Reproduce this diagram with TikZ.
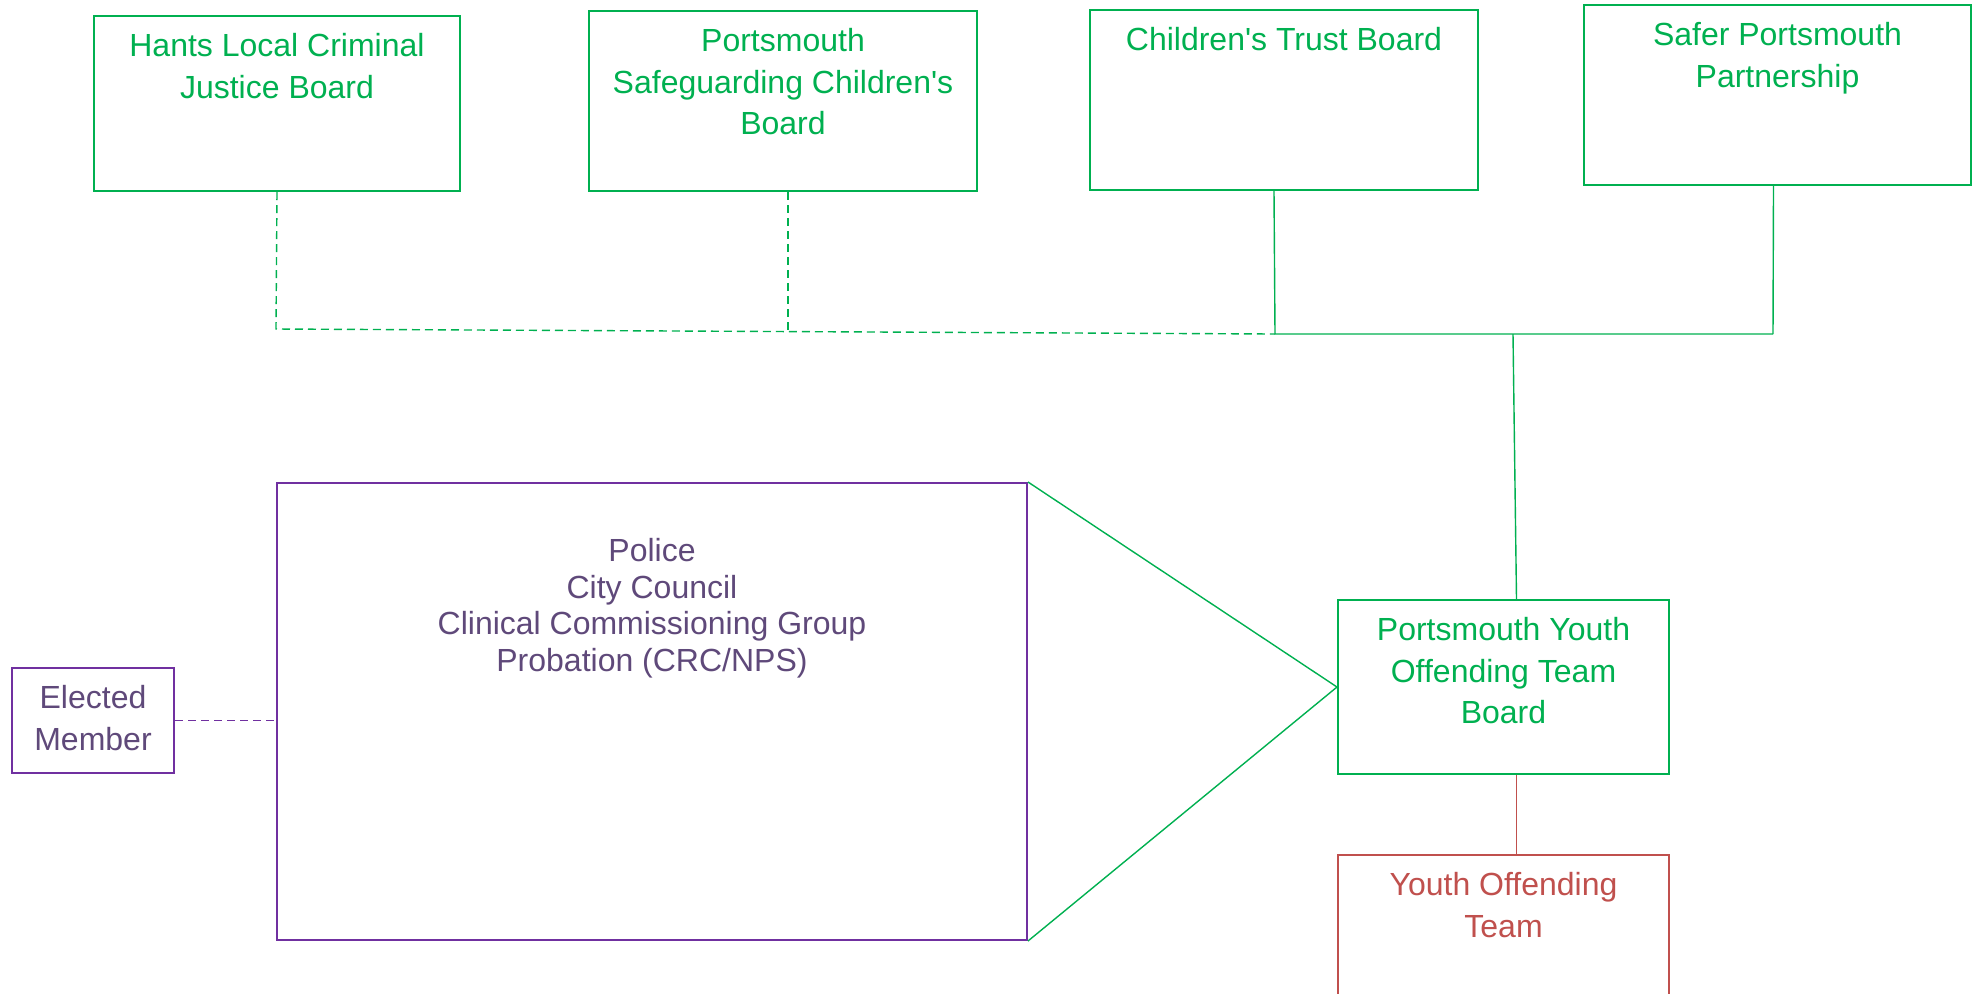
\documentclass[tikz,border=0pt]{standalone}
\usepackage{fontspec}
\setmainfont{Liberation Sans}
\usepackage{tikz}

\definecolor{boardgreen}{HTML}{00B050}
\definecolor{agencypurple}{HTML}{7030A0}
\definecolor{agencytext}{HTML}{5F497A}
\definecolor{teamred}{HTML}{C0504D}

\begin{document}
\begin{tikzpicture}[x=0.5pt,y=-0.5pt]
  \tikzstyle{board}=[draw=boardgreen,line width=1pt,anchor=north west,inner sep=0pt]
  \tikzstyle{boxtext}=[anchor=north,inner sep=0pt,yshift=-9pt,align=center,
    font=\fontsize{16}{20.8}\selectfont]
  \tikzstyle{link}=[draw=boardgreen,line width=0.7pt]
  \tikzstyle{dotlink}=[link,dash pattern=on 4pt off 2.5pt]

  \useasboundingbox (0,0) rectangle (1977,993);

  \node [board,minimum width=183pt,minimum height=87.5pt,
    label={[boxtext,text=boardgreen]north:{Hants Local Criminal\\Justice Board}}]
    (hants) at (93,15) {};
  \node [board,minimum width=194pt,minimum height=90pt,
    label={[boxtext,text=boardgreen]north:{Portsmouth\\Safeguarding Children\textquotesingle s\\Board}}]
    (pscb) at (588,10) {};
  \node [board,minimum width=194pt,minimum height=90pt,
    label={[boxtext,text=boardgreen]north:{Children\textquotesingle s Trust Board}}]
    (ctb) at (1089,9) {};
  \node [board,minimum width=193.5pt,minimum height=90pt,
    label={[boxtext,text=boardgreen]north:{Safer Portsmouth\\Partnership}}]
    (spp) at (1583,4) {};

  \node [board,draw=agencypurple,minimum width=375pt,minimum height=228.5pt,
    label={[boxtext,text=agencytext,yshift=-19pt,font=\fontsize{16}{18.3}\selectfont]north:{Police\\City Council\\Clinical Commissioning Group\\Probation (CRC/NPS)}}]
    (agencies) at (276,482) {};
  \node [board,draw=agencypurple,minimum width=81pt,minimum height=52.5pt,
    label={[boxtext,text=agencytext]north:{Elected\\Member}}]
    (elected) at (11,667) {};

  \node [board,minimum width=165.5pt,minimum height=87pt,
    label={[boxtext,text=boardgreen]north:{Portsmouth Youth\\Offending Team\\Board}}]
    (yotboard) at (1337,599) {};
  \node [board,draw=teamred,minimum width=165.5pt,minimum height=100pt,
    label={[boxtext,text=teamred]north:{Youth Offending\\Team}}]
    (yot) at (1337,854) {};

  \coordinate (dl) at (276,329);
  \coordinate (jl) at (1275,334);
  \coordinate (jm) at (1513,334);
  \coordinate (jr) at (1773,334);

  \draw [dotlink] (hants.south) -- (dl) -- (jl);
  \draw [dotlink] ([xshift=2.5pt]pscb.south) -- ([xshift=2.5pt]pscb.south |- jl);
  \draw [link] ([xshift=-5pt]ctb.south) -- (jl) -- (jr);
  \draw [link] ([xshift=-2pt]spp.south) -- (jr);
  \draw [link] (jm) -- ([xshift=6.5pt]yotboard.north);
  \draw [link] (agencies.north east) -- (yotboard.west) -- (agencies.south east);
  \draw [link,draw=teamred] ([xshift=6.5pt]yotboard.south) -- ([xshift=6.5pt]yot.north);
  \draw [dotlink,draw=agencypurple] (elected.east) -- (elected.east -| agencies.west);
\end{tikzpicture}
\end{document}
